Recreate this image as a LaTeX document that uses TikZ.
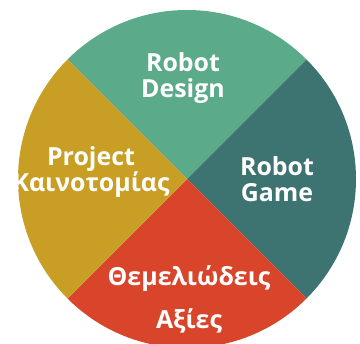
\documentclass[tikz,border=0pt]{standalone}
\usepackage{fontspec}
\setmainfont{Open Sans}
\usepackage{tikz}

\definecolor{designgreen}{HTML}{5BAA8A}
\definecolor{gameteal}{HTML}{3D7371}
\definecolor{valuesred}{HTML}{D8452A}
\definecolor{projectgold}{HTML}{C99E25}

\begin{document}
\begin{tikzpicture}[line join=bevel,
  lbl/.style={text=white, font=\fontsize{25}{27}\selectfont\bfseries, align=center, anchor=base, inner sep=0pt}]
%%
\useasboundingbox (0bp,0bp) rectangle (360bp,344bp);
\clip (0bp,0bp) rectangle (360bp,344bp);
\coordinate (O) at (187bp,165bp);
\begin{scope}
  \clip (O) circle (169bp);
  \fill [designgreen] (O) -- ++(-200bp,200bp) -- ++(400bp,0bp) -- cycle;
  \fill [gameteal] (O) -- ++(200bp,200bp) -- ++(0bp,-400bp) -- cycle;
  \fill [valuesred] (O) -- ++(200bp,-200bp) -- ++(-400bp,0bp) -- cycle;
  \fill [projectgold] (O) -- ++(-200bp,-200bp) -- ++(0bp,400bp) -- cycle;
%
  \node (design) at (183bp,246bp) [lbl] {Robot\\Design};
  \node (game) at (277bp,142bp) [lbl] {Robot\\Game};
  \node (project) at (91bp,152bp) [lbl] {Project\\Καινοτομίας};
  \node (values) at (189bp,16bp) [lbl, font=\fontsize{25}{43}\selectfont\bfseries] {Θεμελιώδεις\\Αξίες};
\end{scope}
%
\end{tikzpicture}
\end{document}
